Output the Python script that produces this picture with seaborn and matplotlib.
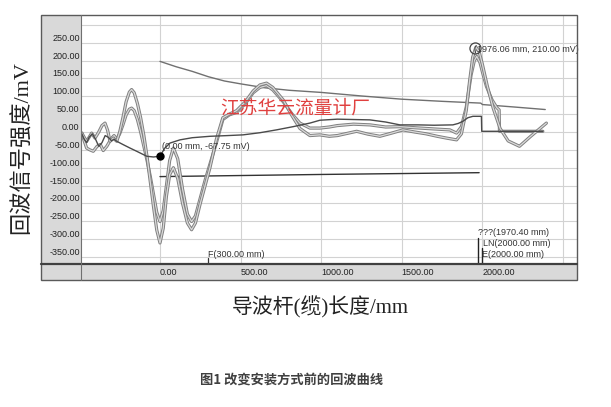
import numpy as np
import pandas as pd
import seaborn as sns
import matplotlib
matplotlib.use("Agg")
from matplotlib import pyplot as plt
from matplotlib import patheffects as pe
from matplotlib.patches import Rectangle
from matplotlib.lines import Line2D

# echo curve A (largest amplitude)
a_x = [-485, -470, -455, -440, -424, -403, -380, -360, -341, -325, -310, -290, -268, -250, -230, -210, -190, -176,
       -160, -140, -120, -100, -80, -60, -40, -20, 0, 20, 40, 60, 83, 110, 140, 170, 196, 220, 250, 280, 310, 350,
       390, 430, 475, 530, 578, 620, 661, 700, 764, 820, 868, 930, 992, 1050, 1100, 1160, 1220, 1290, 1364, 1430,
       1507, 1580, 1650, 1720, 1777, 1840, 1870, 1900, 1920, 1940, 1960, 1980, 2000, 2030, 2067, 2110, 2160, 2230,
       2300, 2397]
a_y = [-3, -15, -26, -15, -3, -17, 0, 18, 25, 5, -26, -17, -26, 0, 40, 85, 112, 119,
       110, 80, 40, -10, -70, -140, -210, -275, -311, -270, -180, -120, -100, -130, -200, -255, -274, -255, -200, -150,
       -100, -20, 40, 50, 60, 85, 115, 132, 137, 125, 90, 45, 10, -10, -8, -12, -10, -4, 2, -6, -12, -4,
       6, 0, -5, -12, -17, -22, -5, 60, 140, 210, 238, 225, 190, 130, 67, 10, -25, -40, -12, 25]

# echo curve B
b_x = [-485, -470, -455, -435, -414, -390, -370, -352, -330, -300, -285, -268, -250, -230, -210, -190, -176, -160,
       -140, -120, -100, -80, -60, -40, -20, 0, 20, 40, 60, 83, 110, 140, 170, 196, 220, 250, 280, 310, 350, 390,
       430, 475, 530, 578, 620, 661, 700, 764, 820, 868, 930, 992, 1050, 1100, 1200, 1302, 1400, 1488, 1580, 1650,
       1720, 1798, 1840, 1870, 1900, 1930, 1950, 1965, 1985, 2005, 2025, 2060, 2090, 2104, 2106, 2375]
b_y = [-3, -25, -45, -50, -54, -40, -35, -52, -40, -17, -10, -20, -5, 20, 48, 64, 67, 60,
       35, 0, -40, -80, -125, -175, -225, -251, -220, -150, -80, -45, -75, -160, -230, -251, -235, -185, -135, -90,
       -30, 35, 48, 55, 80, 110, 125, 130, 118, 85, 50, 25, 11, 11, 14, 18, 22, 20, 14, 15, 12, 10,
       8, 6, -3, 15, 70, 160, 200, 212, 195, 160, 128, 90, 68, 62, 2, 2]

# mapped curve (with marker)
c_x = [-485, -470, -455, -440, -420, -400, -380, -360, -340, -320, -300, -285, -268, -230, -186, -140, -82, -40, 0,
       30, 62, 124, 200, 310, 420, 515, 620, 723, 826, 930, 992, 1100, 1200, 1302, 1400, 1488, 1600, 1700, 1817,
       1850, 1879, 1910, 1941, 1994, 1996, 2200, 2375]
c_y = [-5, -20, -30, -15, -5, -20, -40, -30, -10, -15, -25, -20, -26, -35, -45, -55, -68, -70, -67.75,
       -45, -31, -22, -16, -12, -10, -8, -2, 6, 15, 25, 33, 36, 35, 34, 28, 20, 20, 19, 20,
       24, 30, 40, 44, 44, 2, 2, 2]

# decaying threshold line
thr_x = [0, 100, 200, 300, 400, 500, 650, 800, 1000, 1250, 1500, 1750, 1990, 2000, 2200, 2390]
thr_y = [198, 183, 170, 155, 143, 135, 124, 117, 111, 101, 92, 86, 81, 77, 70, 63]

# lower flat line
base_x = [0, 1000, 1980]
base_y = [-125, -119, -114]

x_ticks = [0, 500, 1000, 1500, 2000, 2500]
x_labels = ["0.00", "500.00", "1000.00", "1500.00", "2000.00", ""]
y_ticks = [-350, -300, -250, -200, -150, -100, -50, 0, 50, 100, 150, 200, 250, 300]
y_labels = ["-350.00", "-300.00", "-250.00", "-200.00", "-150.00", "-100.00", "-50.00", "0.00",
            "50.00", "100.00", "150.00", "200.00", "250.00", ""]

marker_pt = (0, -67.75)
peak_pt = (1955, 235)

sns.set_style("white")
plt.rcParams['font.family'] = ['Liberation Sans', 'Noto Sans CJK SC']

W, H = 611, 407
fig = plt.figure(figsize=(W / 100, H / 100), dpi=100)
fig.patch.set_facecolor("white")

def fx(px):
    return px / W

def fy(py):
    return 1 - py / H

ax = fig.add_axes([fx(81), fy(264), fx(577) - fx(81), fy(15) - fy(264)])
ax.set_xlim(-490, 2587)
ax.set_ylim(-370, 328)

# grey frame strips
fig.add_artist(Rectangle((fx(41), fy(280)), fx(81) - fx(41), fy(15) - fy(280), transform=fig.transFigure,
                         facecolor="#d9d9d9", edgecolor="none", zorder=-1))
fig.add_artist(Rectangle((fx(41), fy(280)), fx(577) - fx(41), fy(264) - fy(280), transform=fig.transFigure,
                         facecolor="#d9d9d9", edgecolor="none", zorder=-1))
fig.add_artist(Rectangle((fx(41), fy(280)), fx(577) - fx(41), fy(15) - fy(280), transform=fig.transFigure,
                         facecolor="none", edgecolor="#5a5a5a", lw=1.0, zorder=5))
fig.add_artist(Line2D([fx(41), fx(577)], [fy(264), fy(264)], transform=fig.transFigure, color="#404040", lw=1.6, zorder=5))
fig.add_artist(Line2D([fx(81), fx(81)], [fy(15), fy(280)], transform=fig.transFigure, color="#707070", lw=0.8, zorder=5))

for s in ax.spines.values():
    s.set_visible(False)

ax.set_xticks(x_ticks, x_labels, ha="left", fontsize=6.5, color="#222222")
ax.set_yticks(y_ticks, y_labels, va="bottom", fontsize=6.5, color="#222222")
ax.tick_params(axis="x", length=0, pad=3)
ax.tick_params(axis="y", length=0, pad=1)
ax.grid(True, color="#d2d2d2", lw=0.8)
ax.set_axisbelow(True)

tube = [pe.Stroke(linewidth=2.3, foreground="#808080"), pe.Normal()]

sns.lineplot(x=thr_x, y=thr_y, sort=False, ax=ax, color="#707070", lw=1.0)
sns.lineplot(x=base_x, y=base_y, sort=False, ax=ax, color="#333333", lw=1.0)
sns.lineplot(x=b_x, y=b_y, sort=False, ax=ax, color="#dadada", lw=0.9, path_effects=tube)
sns.lineplot(x=a_x, y=a_y, sort=False, ax=ax, color="#dadada", lw=0.9, path_effects=tube)
sns.lineplot(x=c_x, y=c_y, sort=False, ax=ax, color="#4a4a4a", lw=1.0)

ax.plot(*marker_pt, "o", color="black", ms=5, zorder=6)
ax.plot(*peak_pt, "o", mfc="none", mec="#444444", ms=8, mew=0.9, zorder=6)

ann = dict(fontsize=6.5, color="#333333", va="center", ha="left", clip_on=False)
ax.text(10, -42, "(0.00 mm, -67.75 mV)", **ann)
ax.text(1950, 232, "(1976.06 mm, 210.00 mV)", **ann)
ax.text(300, -344, "F(300.00 mm)", **ann)
ax.text(1970.4, -283, "???(1970.40 mm)", **ann)
ax.text(2005, -313, "LN(2000.00 mm)", **ann)
ax.text(2000, -342, "E(2000.00 mm)", **ann)
ax.plot([300, 300], [-353, -370], color="#333333", lw=0.9)
ax.plot([1970.4, 1970.4], [-297, -370], color="#222222", lw=1.0)
ax.plot([2000, 2000], [-325, -370], color="#222222", lw=1.0)

fig.text(fx(220), fy(108), "江苏华云流量计厂", color="#e0403f", fontsize=13.5, ha="left", va="center",
         family=["Noto Sans CJK SC"], zorder=10)

serif = ["Liberation Serif", "Noto Sans CJK SC"]
fig.text(fx(22), fy(147), "回波信号强度/mV", rotation=90, ha="center", va="center", fontsize=16,
         family=serif, color="#222222")
fig.text(fx(320), fy(307), "导波杆(缆)长度/mm", ha="center", va="center", fontsize=15,
         family=serif, color="#222222")
fig.text(fx(292), fy(380), "图1 改变安装方式前的回波曲线", ha="center", va="center", fontsize=9.5,
         fontweight="bold", family=["Noto Sans CJK SC"], color="#404040")

fig.savefig("out.png", dpi=100)
